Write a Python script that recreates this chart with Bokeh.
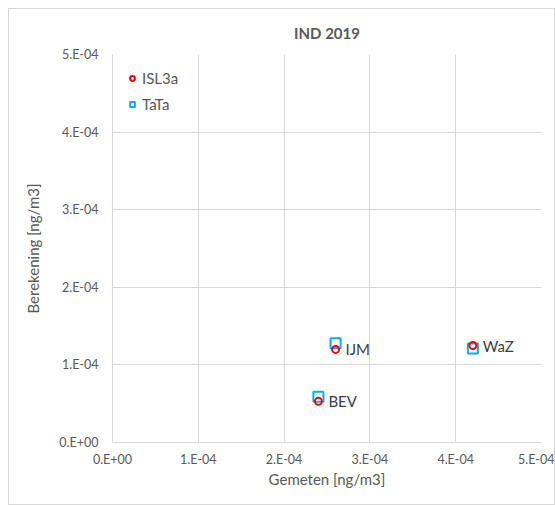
from bokeh.plotting import figure
from bokeh.models import FixedTicker, ColumnDataSource, LabelSet, Legend, LegendItem, Range1d
from bokeh.core.properties import value
from bokeh.embed import file_html
from bokeh.resources import INLINE

# Data
title_text = "IND 2019"
stations = ["BEV", "IJM", "WaZ"]
gemeten = [2.40e-4, 2.60e-4, 4.20e-4]
isl3a = [0.53e-4, 1.20e-4, 1.25e-4]
tata = [0.59e-4, 1.28e-4, 1.21e-4]
tick_values = [0.0, 1e-4, 2e-4, 3e-4, 4e-4, 5e-4]
x_tick_labels = ["0.E+00", "1.E-04", "2.E-04", "3.E-04", "4.E-04", "5.E-04"]
y_tick_labels = ["0.E+00", "1.E-04", "2.E-04", "3.E-04", "4.E-04", "5.E-04"]

FONT = "Lato"
GREY = "#595959"
GRID = "#D9D9D9"

p = figure(width=547, height=497, output_backend="svg", toolbar_location=None,
           x_range=Range1d(0, 5e-4), y_range=Range1d(0, 5e-4),
           min_border_left=103, min_border_right=15, min_border_top=44, min_border_bottom=64)
p.styles = {"border": "1px solid #D9D9D9", "box-sizing": "border-box",
            "margin-left": "8px", "margin-top": "8px"}

p.title.text = title_text
p.title.align = "center"
p.title.text_font = FONT
p.title.text_font_size = "15px"
p.title.text_font_style = "bold"
p.title.text_color = GREY
p.title.standoff = 25

p.outline_line_color = None
for ax, labels in ((p.xaxis, x_tick_labels), (p.yaxis, y_tick_labels)):
    ax.ticker = FixedTicker(ticks=tick_values)
    ax.major_label_overrides = {v: l for v, l in zip(tick_values, labels)}
    ax.major_tick_line_color = None
    ax.minor_tick_line_color = None
    ax.axis_line_color = GRID
    ax.major_label_text_font = FONT
    ax.major_label_text_font_size = "12.5px"
    ax.major_label_text_color = GREY
    ax.axis_label_text_font = FONT
    ax.axis_label_text_font_size = "15px"
    ax.axis_label_text_color = GREY
    ax.axis_label_text_font_style = "normal"

p.xaxis.axis_label = "Gemeten [ng/m3]"
p.yaxis.axis_label = "Berekening [ng/m3]"
p.xaxis.major_label_standoff = 3
p.yaxis.major_label_standoff = 8
p.xaxis.axis_label_standoff = 0
p.yaxis.axis_label_standoff = 14

p.grid.grid_line_color = GRID
p.grid.grid_line_width = 1

src = ColumnDataSource(dict(x=gemeten, isl=isl3a, tata=tata, name=stations))

r2 = p.scatter("x", "tata", source=src, marker="square", size=10, line_width=2,
               line_color="#00B0F0", fill_color=None)
r1 = p.scatter("x", "isl", source=src, marker="circle", size=7, line_width=2,
               line_color="#FF0000", fill_color=None)

labels = LabelSet(x="x", y="isl", text="name", source=src, x_offset=10, y_offset=0,
                  text_font=value(FONT), text_font_size="15px", text_color="#404040",
                  text_baseline="middle")
p.add_layout(labels)

legend = Legend(items=[LegendItem(label="ISL3a", renderers=[r1]),
                       LegendItem(label="TaTa", renderers=[r2])],
                location="top_left")
legend.border_line_color = None
legend.background_fill_alpha = 0
legend.label_text_font = FONT
legend.label_text_font_size = "15px"
legend.label_text_color = GREY
legend.glyph_width = 12
legend.glyph_height = 20
legend.label_height = 20
legend.spacing = 6
legend.padding = 0
legend.margin = 14
legend.label_standoff = 4
p.add_layout(legend)

open("out.html", "w").write(file_html(p, INLINE))
